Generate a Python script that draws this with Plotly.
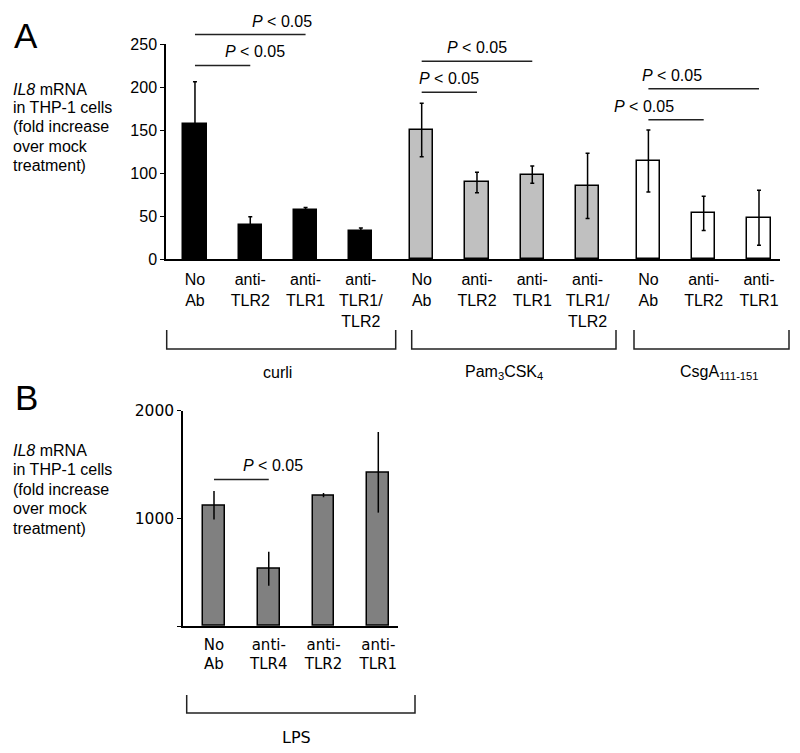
import plotly.graph_objects as go

W, H = 800, 753

# ---------------- Data ----------------
# Panel A
a_groups = ["curli", "Pam<sub>3</sub>CSK<sub>4</sub>", "CsgA<sub>111-151</sub>"]
a_labels = [
    ["No<br>Ab", "anti-<br>TLR2", "anti-<br>TLR1", "anti-<br>TLR1/<br>TLR2"],
    ["No<br>Ab", "anti-<br>TLR2", "anti-<br>TLR1", "anti-<br>TLR1/<br>TLR2"],
    ["No<br>Ab", "anti-<br>TLR2", "anti-<br>TLR1"],
]
a_curli = [157, 39, 57, 33]
a_curli_err = [49, 10, 3, 3]
a_pam = [150, 89, 98, 85]
a_pam_err = [31, 12, 10, 38]
a_csg = [114, 53, 48]
a_csg_err = [36, 20, 32]
a_values = [a_curli, a_pam, a_csg]
a_errors = [a_curli_err, a_pam_err, a_csg_err]
a_colors = ["#000000", "#c0c0c0", "#ffffff"]
a_yticks = [0, 50, 100, 150, 200, 250]
# significance: (group, bar i, bar j, level in data units)
a_sig = [(0, 0, 1, 225), (0, 0, 2, 261), (1, 0, 1, 194), (1, 0, 2, 230), (2, 0, 1, 162), (2, 0, 2, 198)]

# Panel B
b_group = "LPS"
b_labels = ["No<br>Ab", "anti-<br>TLR4", "anti-<br>TLR2", "anti-<br>TLR1"]
b_values = [1122, 532, 1215, 1428]
b_errors = [132, 158, 20, 375]
b_color = "#808080"
b_yticks = [0, 1000, 2000]
b_yticktext = ["", "1000", "2000"]
b_sig = [(0, 1, 1362)]

ylabel_lines = ["<i>IL8</i> mRNA", "in THP-1 cells", "(fold increase", "over mock", "treatment)"]

# ---------------- Layout geometry ----------------
GAP = 0.1
a_pos = []
for g, vals in enumerate(a_values):
    start = sum(len(v) for v in a_values[:g])
    a_pos.append([start + i + GAP * g for i in range(len(vals))])

A_XDOM = [166 / W, 780 / W]
A_XR = [-0.524, 10.58]
A_YDOM = [1 - 259 / H, 1 - 44 / H]
A_YR = [0, 250]
B_XDOM = [183 / W, 398 / W]
B_XR = [-0.566, 3.36]
B_YDOM = [1 - 626 / H, 1 - 410.7 / H]
B_YR = [0, 2000]

def to_paper(v, dom, rng):
    return dom[0] + (v - rng[0]) / (rng[1] - rng[0]) * (dom[1] - dom[0])

ARIAL = "Liberation Sans, Arial, sans-serif"
DEJAVU = "DejaVu Sans, Verdana, sans-serif"
LINE = "#222222"

fig = go.Figure()

for g in range(3):
    fig.add_trace(go.Bar(
        x=a_pos[g], y=a_values[g], width=0.42,
        marker=dict(color=a_colors[g], line=dict(color="#000000", width=1.5)),
        error_y=dict(type="data", array=a_errors[g], color="#000000", thickness=1.5, width=2),
        xaxis="x", yaxis="y", showlegend=False, hoverinfo="y",
    ))

b_pos = list(range(len(b_values)))
fig.add_trace(go.Bar(
    x=b_pos, y=b_values, width=0.4,
    marker=dict(color=b_color, line=dict(color="#000000", width=1.5)),
    error_y=dict(type="data", array=b_errors, color="#000000", thickness=1.5, width=0),
    xaxis="x2", yaxis="y2", showlegend=False, hoverinfo="y",
))

shapes = []
annotations = []

def sig_mark(x0, x1, yy):
    shapes.append(dict(type="line", xref="paper", yref="paper", x0=x0, x1=x1, y0=yy, y1=yy,
                       line=dict(color=LINE, width=1.5)))
    annotations.append(dict(xref="paper", yref="paper", x=(x0 + x1) / 2, y=yy, yshift=3,
                            text="<i>P</i> < 0.05", showarrow=False, yanchor="bottom",
                            font=dict(family=ARIAL, size=16, color="#000")))

for g, i, j, lvl in a_sig:
    sig_mark(to_paper(a_pos[g][i], A_XDOM, A_XR), to_paper(a_pos[g][j], A_XDOM, A_XR),
             to_paper(lvl, A_YDOM, A_YR))
for i, j, lvl in b_sig:
    sig_mark(to_paper(b_pos[i], B_XDOM, B_XR), to_paper(b_pos[j], B_XDOM, B_XR),
             to_paper(lvl, B_YDOM, B_YR))

def bracket(px0, px1, pyt, pyb, label, pxlab, pylab, family):
    x0, x1 = px0 / W, px1 / W
    yt, yb = 1 - pyt / H, 1 - pyb / H
    shapes.append(dict(type="path", xref="paper", yref="paper",
                       path=f"M {x0} {yt} L {x0} {yb} L {x1} {yb} L {x1} {yt}",
                       line=dict(color=LINE, width=1.5)))
    annotations.append(dict(xref="paper", yref="paper", x=pxlab / W, y=1 - pylab / H,
                            text=label, showarrow=False, xanchor="left", yanchor="middle",
                            font=dict(family=family, size=16, color="#000")))

a_brackets = [(166.7, 395.7, 261), (411.7, 616, 463), (634, 789, 678)]
for (px0, px1, plab), name in zip(a_brackets, a_groups):
    bracket(px0, px1, 330, 349, name, plab, 372, ARIAL)
bracket(186.7, 415, 695, 713, b_group, 280, 737, DEJAVU)

# y labels
for k, line in enumerate(ylabel_lines):
    annotations.append(dict(xref="paper", yref="paper", x=11 / W, y=1 - (89 + 19 * k) / H,
                            text=line, showarrow=False, xanchor="left", yanchor="middle",
                            font=dict(family=ARIAL, size=16, color="#000")))
    annotations.append(dict(xref="paper", yref="paper", x=11 / W, y=1 - (450 + 19.5 * k) / H,
                            text=line, showarrow=False, xanchor="left", yanchor="middle",
                            font=dict(family=ARIAL, size=16, color="#000")))

# panel letters
annotations.append(dict(xref="paper", yref="paper", x=25.5 / W, y=1 - 35.5 / H, text="A",
                        showarrow=False, xanchor="center", yanchor="middle",
                        font=dict(family=ARIAL, size=35, color="#000")))
annotations.append(dict(xref="paper", yref="paper", x=26 / W, y=1 - 397.5 / H, text="B",
                        showarrow=False, xanchor="center", yanchor="middle",
                        font=dict(family=ARIAL, size=35, color="#000")))

all_pos = [p for grp in a_pos for p in grp]
all_lab = [l for grp in a_labels for l in grp]

fig.update_layout(
    width=W, height=H, margin=dict(l=0, r=0, t=0, b=0, pad=0, autoexpand=False),
    paper_bgcolor="white", plot_bgcolor="white", bargap=0,
    shapes=shapes, annotations=annotations,
    xaxis=dict(domain=A_XDOM, range=A_XR, tickvals=all_pos, ticktext=all_lab,
               showline=True, linecolor="#000", linewidth=1.5, ticks="", showgrid=False,
               zeroline=False, anchor="y", tickfont=dict(family=ARIAL, size=16, color="#000"),
               ticklabelstandoff=5, automargin=False, fixedrange=True),
    yaxis=dict(domain=A_YDOM, range=A_YR, tickvals=a_yticks, showline=True, linecolor="#000",
               linewidth=1.5, ticks="outside", ticklen=4, tickwidth=1.2, tickcolor="#000",
               showgrid=False, zeroline=False, anchor="x", automargin=False,
               tickfont=dict(family=ARIAL, size=16, color="#000"), fixedrange=True),
    xaxis2=dict(domain=B_XDOM, range=B_XR, tickvals=b_pos, ticktext=b_labels,
                showline=True, linecolor="#000", linewidth=1.5, ticks="", showgrid=False,
                zeroline=False, anchor="y2", tickfont=dict(family=DEJAVU, size=15, color="#000"),
                ticklabelstandoff=4, automargin=False, fixedrange=True),
    yaxis2=dict(domain=B_YDOM, range=B_YR, tickvals=b_yticks, ticktext=b_yticktext,
                showline=True, linecolor="#000", linewidth=1.5, ticks="outside", ticklen=4,
                tickwidth=1.2, tickcolor="#000", showgrid=False, zeroline=False, anchor="x2",
                automargin=False, tickfont=dict(family=DEJAVU, size=15.5, color="#000"),
                fixedrange=True),
)

fig.write_html(
    "out.html",
    config={"displayModeBar": False},
    post_script="document.body.style.margin='0';document.body.style.padding='0';"
                "document.documentElement.style.overflow='hidden';",
)
